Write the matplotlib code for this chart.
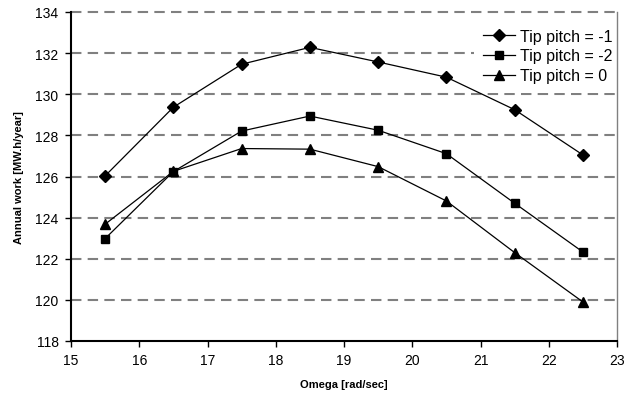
import numpy as np
import matplotlib.pyplot as plt

plt.rcParams['font.family'] = ['Liberation Sans', 'DejaVu Sans']

# Datos
omega = [15.5, 16.5, 17.5, 18.5, 19.5, 20.5, 21.5, 22.5]
pitch_m1 = [126.03, 129.37, 131.46, 132.28, 131.57, 130.83, 129.25, 127.05]
pitch_m2 = [122.98, 126.24, 128.21, 128.94, 128.25, 127.11, 124.70, 122.33]
pitch_0 = [123.68, 126.25, 127.36, 127.33, 126.48, 124.81, 122.30, 119.90]
labels = ['Tip pitch = -1', 'Tip pitch = -2', 'Tip pitch = 0']

fig = plt.figure(figsize=(6.26, 4.02), dpi=100)
ax = fig.add_axes([71 / 626, 60 / 402, 546 / 626, 329 / 402])

ax.plot(omega, pitch_m1, 'k-', lw=0.9, marker='D', ms=6, label=labels[0])
ax.plot(omega, pitch_m2, 'k-', lw=0.9, marker='s', ms=6.2, label=labels[1])
ax.plot(omega, pitch_0, 'k-', lw=0.9, marker='^', ms=7, label=labels[2])

ax.set_xlim(15, 23)
ax.set_ylim(118, 134)
ax.set_xticks(np.arange(15, 24, 1))
ax.set_yticks(np.arange(118, 135, 2))

# Lineas de cuadricula discontinuas (estilo Excel)
for yv in np.arange(120, 135, 2):
    ax.axhline(yv, color='#808080', lw=1.5, ls=(0, (5, 3)), zorder=0, clip_on=False)

ax.spines['top'].set_visible(False)
ax.spines['right'].set_color('#808080')
ax.spines['right'].set_linewidth(1.0)
ax.spines['left'].set_linewidth(1.5)
ax.spines['bottom'].set_linewidth(1.5)
ax.tick_params(axis='both', direction='out', length=4, width=1, labelsize=10, pad=5)
ax.tick_params(axis='y', right=False)

ax.set_xlabel('Omega [rad/sec]', fontsize=8, fontweight='bold', labelpad=8)
ax.set_ylabel('Annual work [MW.h/year]', fontsize=8, fontweight='bold', labelpad=8)

leg = ax.legend(loc='upper right', frameon=True, fontsize=11.5, handlelength=2.0,
                handletextpad=0.3, labelspacing=0.3, borderaxespad=0.0,
                borderpad=0.6, fancybox=False, bbox_to_anchor=(1 + 5 / 546, 1 - 7 / 329))
leg.get_frame().set_facecolor('white')
leg.get_frame().set_edgecolor('none')
leg.get_frame().set_alpha(1)
leg.set_zorder(1)

plt.savefig('out.png', dpi=100)
